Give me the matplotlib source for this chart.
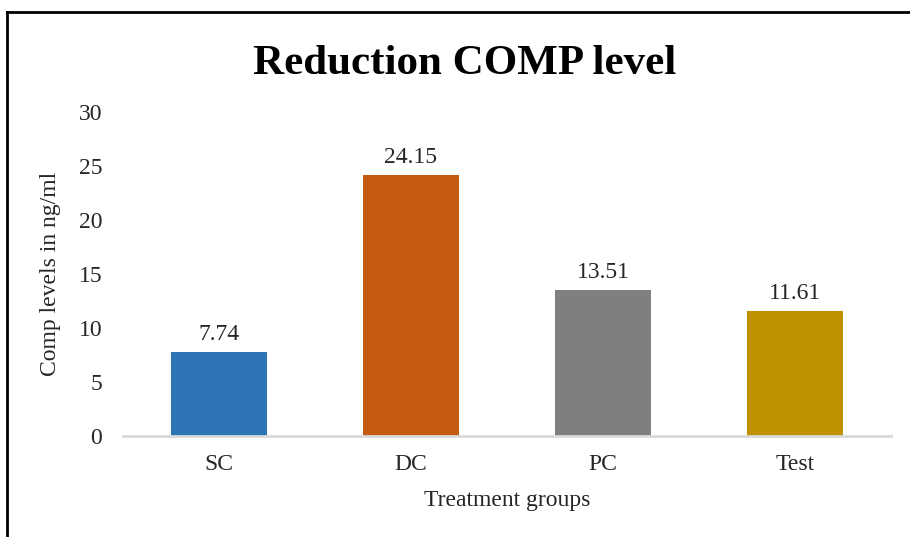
import matplotlib.pyplot as plt
from matplotlib.lines import Line2D

groups = ['SC', 'DC', 'PC', 'Test']
comp = [7.74, 24.15, 13.51, 11.61]
colores = ['#2E75B6', '#C55A11', '#7F7F7F', '#BF9000']

plt.rcParams['font.family'] = ['Liberation Serif', 'DejaVu Serif']

fig = plt.figure(figsize=(9.1, 5.37), dpi=100)
ax = fig.add_axes([0.1352, 0.188, 0.8438, 0.6034])

x = range(len(groups))
barras = ax.bar(x, comp, width=0.5, color=colores)
for b, v in zip(barras, comp):
    ax.text(b.get_x() + b.get_width() / 2, v + 0.65, '%.2f' % v,
            ha='center', va='bottom', fontsize=17, color='#262626')

ax.set_xlim(-0.5, 3.5)
ax.set_ylim(0, 30)
ax.set_yticks(range(0, 31, 5))
ax.set_xticks(list(x))
ax.set_xticklabels(groups)
ax.tick_params(axis='both', length=0, labelsize=17, colors='#262626')
ax.tick_params(axis='y', pad=15)
ax.tick_params(axis='x', pad=13)

for s in ['top', 'right', 'left']:
    ax.spines[s].set_visible(False)
ax.spines['bottom'].set_color('#D9D9D9')
ax.spines['bottom'].set_linewidth(2)

ax.set_xlabel('Treatment groups', fontsize=17, color='#262626', labelpad=11)
ax.set_ylabel('Comp levels in ng/ml', fontsize=17, color='#262626', labelpad=13)

fig.text(0.511, 0.862, 'Reduction COMP level', ha='center', va='baseline',
         fontsize=31, fontweight='bold')

# marco del grafico (solo arriba e izquierda)
fig.add_artist(Line2D([0.008, 0.008], [0, 0.978], color='black', lw=2,
                      transform=fig.transFigure))
fig.add_artist(Line2D([0.008, 1], [0.978, 0.978], color='black', lw=2,
                      transform=fig.transFigure))

fig.savefig('out.png', dpi=100)
